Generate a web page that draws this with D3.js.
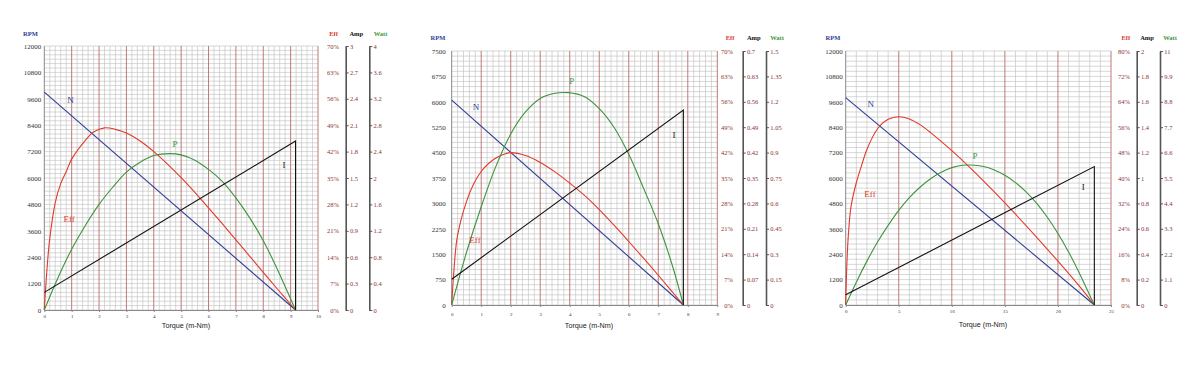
<!DOCTYPE html>
<html>
<head>
<meta charset="utf-8">
<script src="https://cdn.jsdelivr.net/npm/d3@7"></script>
<style>
body { margin: 0; background: #fff; }
</style>
</head>
<body>
<div id="chart-area"></div>
<script>
// ---- panel 1 ----
var torqueTicks1 = [0, 1, 2, 3, 4, 5, 6, 7, 8, 9, 10];
var rpmTicks1 = [0, 1200, 2400, 3600, 4800, 6000, 7200, 8400, 9600, 10800, 12000];
var effTicks1 = [0, 7, 14, 21, 28, 35, 42, 49, 56, 63, 70];
var ampTicks1 = [0, 0.3, 0.6, 0.9, 1.2, 1.5, 1.8, 2.1, 2.4, 2.7, 3];
var wattTicks1 = [0, 0.4, 0.8, 1.2, 1.6, 2, 2.4, 2.8, 3.2, 3.6, 4];
var nTorque1 = [0, 9.18];
var nRpm1 = [9900, 0];
var iTorque1 = [0, 9.18, 9.18];
var iAmp1 = [0.2, 1.92, 0];
var effTorque1 = [0, 0.1, 0.2, 0.4, 0.6, 0.82, 1, 1.5, 1.8, 2.2, 2.6, 3, 3.5, 4, 4.5, 5, 5.5, 6, 6.5, 7, 7.5, 8, 8.5, 9.18];
var eff1 = [0, 11, 19, 28.5, 33.5, 37, 40, 45, 47.2, 48.3, 47.9, 46.9, 44.8, 42, 38.7, 35.1, 31.2, 27.1, 22.9, 18.6, 14.3, 10, 5.7, 0];
var pTorque1 = [0, 0.5, 1, 1.5, 2, 2.5, 3, 3.5, 4, 4.6, 5, 5.5, 6, 6.5, 7, 7.5, 8, 8.5, 9.18];
var pWatt1 = [0, 0.49, 0.92, 1.28, 1.6, 1.86, 2.09, 2.24, 2.34, 2.37, 2.35, 2.27, 2.13, 1.95, 1.7, 1.4, 1.05, 0.63, 0];

// ---- panel 2 ----
var torqueTicks2 = [0, 1, 2, 3, 4, 5, 6, 7, 8, 9];
var rpmTicks2 = [0, 750, 1500, 2250, 3000, 3750, 4500, 5250, 6000, 6750, 7500];
var effTicks2 = [0, 7, 14, 21, 28, 35, 42, 49, 56, 63, 70];
var ampTicks2 = [0, 0.07, 0.14, 0.21, 0.28, 0.35, 0.42, 0.49, 0.56, 0.63, 0.7];
var wattTicks2 = [0, 0.15, 0.3, 0.45, 0.6, 0.75, 0.9, 1.05, 1.2, 1.35, 1.5];
var nTorque2 = [0, 7.85];
var nRpm2 = [6050, 0];
var iTorque2 = [0, 7.85, 7.85];
var iAmp2 = [0.071, 0.537, 0];
var effTorque2 = [0, 0.08, 0.19, 0.5, 0.75, 1, 1.25, 1.5, 1.75, 2, 2.5, 3, 3.5, 4, 4.5, 5, 5.5, 6, 6.5, 7, 7.85];
var eff2 = [0, 10, 18.8, 28.5, 33.5, 36.8, 39, 40.5, 41.5, 42, 41.2, 39.3, 36.7, 33.6, 30.2, 26.3, 22, 17.5, 12.9, 8.2, 0];
var pTorque2 = [0, 0.5, 1, 1.5, 2, 2.5, 3, 3.5, 3.95, 4.5, 5, 5.5, 6, 6.5, 7, 7.5, 7.85];
var pWatt2 = [0, 0.31, 0.58, 0.82, 1.01, 1.14, 1.22, 1.25, 1.254, 1.23, 1.16, 1.05, 0.89, 0.69, 0.48, 0.22, 0];

// ---- panel 3 ----
var torqueTicks3 = [0, 5, 10, 15, 20, 25];
var rpmTicks3 = [0, 1200, 2400, 3600, 4800, 6000, 7200, 8400, 9600, 10800, 12000];
var effTicks3 = [0, 8, 16, 24, 32, 40, 48, 56, 64, 72, 80];
var ampTicks3 = [0, 0.2, 0.4, 0.6, 0.8, 1, 1.2, 1.4, 1.6, 1.8, 2];
var wattTicks3 = [0, 1.1, 2.2, 3.3, 4.4, 5.5, 6.6, 7.7, 8.8, 9.9, 11];
var nTorque3 = [0, 23.43];
var nRpm3 = [9800, 0];
var iTorque3 = [0, 23.43, 23.43];
var iAmp3 = [0.08, 1.09, 0];
var effTorque3 = [0, 0.1, 0.25, 0.5, 1, 1.5, 2, 3, 4, 5, 6, 7, 8, 10, 12, 14, 16, 18, 20, 22, 23.43];
var eff3 = [0, 12, 22, 31, 38.5, 44, 49, 55.5, 58.5, 59.3, 58.6, 56.8, 54.3, 48.6, 42.3, 35.6, 28.6, 21.3, 13.8, 6, 0];
var pTorque3 = [0, 1, 2, 3, 4, 5, 6, 7, 8, 9, 10, 11, 11.7, 13, 14, 15, 16, 17, 18, 19, 20, 21, 22, 23, 23.43];
var pWatt3 = [0, 0.99, 1.9, 2.73, 3.45, 4.1, 4.65, 5.1, 5.47, 5.75, 5.95, 6.05, 6.06, 6.0, 5.85, 5.62, 5.3, 4.9, 4.4, 3.8, 3.1, 2.3, 1.4, 0.42, 0];

var seriesNames = ["N", "P", "Eff", "I"];

var panels = [
	{
		torqueTicks: torqueTicks1, rpmTicks: rpmTicks1, effTicks: effTicks1, ampTicks: ampTicks1, wattTicks: wattTicks1,
		n: [nTorque1, nRpm1], i: [iTorque1, iAmp1], eff: [effTorque1, eff1], p: [pTorque1, pWatt1],
		left: 44.3, right: 318, top: 46, bottom: 310,
		leftPad: 3, xPad: 2, minorX: 0.2, majorX: 1, minorY: 200,
		effX: 339, ampX: 345.7, wattX: 369.3, titleY: 36,
		rpmTitleX: 30.5, effTitleX: 333.5, ampTitleX: 356.3, wattTitleX: 380.5,
		xTitleX: 186, xTitleY: 327.5,
		labels: [[0.96, 9545], [4.78, 7550], [0.91, 4123], [8.76, 6591]]
	},
	{
		torqueTicks: torqueTicks2, rpmTicks: rpmTicks2, effTicks: effTicks2, ampTicks: ampTicks2, wattTicks: wattTicks2,
		n: [nTorque2, nRpm2], i: [iTorque2, iAmp2], eff: [effTorque2, eff2], p: [pTorque2, pWatt2],
		left: 451.7, right: 717.3, top: 51, bottom: 305,
		leftPad: 6, xPad: 5, minorX: 0.2, majorX: 1, minorY: 150,
		effX: 733, ampX: 742.7, wattX: 766, titleY: 40,
		rpmTitleX: 438, effTitleX: 730, ampTitleX: 753.8, wattTitleX: 777,
		xTitleX: 589, xTitleY: 327.5,
		labels: [[0.82, 5855], [4.07, 6620], [0.79, 1919], [7.53, 5020]]
	},
	{
		torqueTicks: torqueTicks3, rpmTicks: rpmTicks3, effTicks: effTicks3, ampTicks: ampTicks3, wattTicks: wattTicks3,
		n: [nTorque3, nRpm3], i: [iTorque3, iAmp3], eff: [effTorque3, eff3], p: [pTorque3, pWatt3],
		left: 845.7, right: 1111, top: 51, bottom: 305,
		leftPad: 3, xPad: 2.5, minorX: 1, majorX: 5, minorY: 240,
		effX: 1130, ampX: 1136.7, wattX: 1160, titleY: 40,
		rpmTitleX: 833, effTitleX: 1125.8, ampTitleX: 1147, wattTitleX: 1170,
		xTitleX: 983, xTitleY: 326.5,
		labels: [[2.36, 9496], [12.19, 7050], [2.29, 5244], [22.39, 5561]]
	}
];

var colors = {N: "#2f3f95", P: "#3c943c", Eff: "#e03a2a", I: "#111111"};
var serif = "'Liberation Serif', 'DejaVu Serif', serif";

var svg = d3.select("#chart-area").append("svg")
	.attr("width", 1200)
	.attr("height", 366);

function zip(xs, ys) {
	return xs.map((d, k) => [d, ys[k]]);
}

function drawPanel(c) {
	var g = svg.append("g");
	var tMax = c.torqueTicks[c.torqueTicks.length - 1];
	var rMax = c.rpmTicks[c.rpmTicks.length - 1];

	var x = d3.scaleLinear().domain([0, tMax]).range([c.left, c.right]);
	var yRpm = d3.scaleLinear().domain([0, rMax]).range([c.bottom, c.top]);
	var yEff = d3.scaleLinear().domain([0, c.effTicks[c.effTicks.length - 1]]).range([c.bottom, c.top]);
	var yAmp = d3.scaleLinear().domain([0, c.ampTicks[c.ampTicks.length - 1]]).range([c.bottom, c.top]);
	var yWatt = d3.scaleLinear().domain([0, c.wattTicks[c.wattTicks.length - 1]]).range([c.bottom, c.top]);

	// grid
	var hLines = d3.range(0, rMax + c.minorY / 2, c.minorY);
	g.append("g").selectAll("line")
		.data(hLines)
		.enter()
		.append("line")
			.attr("x1", c.left)
			.attr("x2", c.right)
			.attr("y1", d => yRpm(d))
			.attr("y2", d => yRpm(d))
			.attr("stroke", "#bdbdbd")
			.attr("stroke-width", 0.6);

	var vMinor = d3.range(0, tMax + c.minorX / 2, c.minorX)
		.filter(d => Math.abs(d / c.majorX - Math.round(d / c.majorX)) > 1e-6);
	g.append("g").selectAll("line")
		.data(vMinor)
		.enter()
		.append("line")
			.attr("x1", d => x(d))
			.attr("x2", d => x(d))
			.attr("y1", c.top)
			.attr("y2", c.bottom)
			.attr("stroke", "#bdbdbd")
			.attr("stroke-width", 0.6);

	var vMajor = d3.range(c.majorX, tMax + c.majorX / 2, c.majorX);
	g.append("g").selectAll("line")
		.data(vMajor)
		.enter()
		.append("line")
			.attr("x1", d => x(d))
			.attr("x2", d => x(d))
			.attr("y1", c.top)
			.attr("y2", c.bottom)
			.attr("stroke", "#b86b6b")
			.attr("stroke-width", 0.9);

	g.append("line")
		.attr("x1", c.left).attr("x2", c.left)
		.attr("y1", c.top).attr("y2", c.bottom)
		.attr("stroke", "#888").attr("stroke-width", 1);

	// left axis
	var leftAxis = g.append("g")
		.attr("transform", "translate(" + c.left + ",0)")
		.call(d3.axisLeft(yRpm).tickValues(c.rpmTicks).tickSize(0).tickPadding(c.leftPad).tickFormat(d3.format("d")));
	leftAxis.select(".domain").remove();
	leftAxis.selectAll("text").attr("font-family", serif).attr("font-size", "7px").attr("fill", "#333");

	// bottom axis
	var bottomAxis = g.append("g")
		.attr("transform", "translate(0," + c.bottom + ")")
		.call(d3.axisBottom(x).tickValues(c.torqueTicks).tickSize(2).tickSizeOuter(0).tickPadding(c.xPad));
	bottomAxis.select(".domain").attr("stroke", "#888");
	bottomAxis.selectAll("line").attr("stroke", "#888");
	bottomAxis.selectAll("text").attr("font-family", serif).attr("font-size", "5px").attr("fill", "#333");

	// right axes
	var effAxis = g.append("g")
		.attr("transform", "translate(" + c.effX + ",0)")
		.call(d3.axisLeft(yEff).tickValues(c.effTicks).tickSize(0).tickPadding(0).tickFormat(d => d + "%"));
	effAxis.select(".domain").remove();

	var ampAxis = g.append("g")
		.attr("transform", "translate(" + c.ampX + ",0)")
		.call(d3.axisRight(yAmp).tickValues(c.ampTicks).tickSize(3).tickSizeOuter(0).tickPadding(1.3).tickFormat(d => String(d)));

	var wattAxis = g.append("g")
		.attr("transform", "translate(" + c.wattX + ",0)")
		.call(d3.axisRight(yWatt).tickValues(c.wattTicks).tickSize(3).tickSizeOuter(0).tickPadding(1.3).tickFormat(d => String(d)));

	[effAxis, ampAxis, wattAxis].forEach(a => {
		a.selectAll("text").attr("font-family", serif).attr("font-size", "6.5px").attr("fill", "#8a3535");
		a.selectAll(".domain").attr("stroke", "#555").attr("stroke-width", 1.6);
		a.selectAll(".tick line").attr("stroke", "#555").attr("stroke-width", 1);
	});

	// axis titles
	var titles = [
		["RPM", c.rpmTitleX, colors.N],
		["Eff", c.effTitleX, colors.Eff],
		["Amp", c.ampTitleX, "#111"],
		["Watt", c.wattTitleX, colors.P]
	];
	g.append("g").selectAll("text")
		.data(titles)
		.enter()
		.append("text")
			.attr("x", d => d[1])
			.attr("y", c.titleY)
			.attr("text-anchor", "middle")
			.attr("font-family", serif)
			.attr("font-weight", "bold")
			.attr("font-size", "6.5px")
			.attr("fill", d => d[2])
			.text(d => d[0]);

	g.append("text")
		.attr("x", c.xTitleX)
		.attr("y", c.xTitleY)
		.attr("text-anchor", "middle")
		.attr("font-family", "'Liberation Sans', Arial, sans-serif")
		.attr("font-size", "7.2px")
		.attr("fill", "#222")
		.text("Torque (m-Nm)");

	// curves
	var straight = d3.line().x(d => x(d[0]));
	var smooth = d3.line().x(d => x(d[0])).curve(d3.curveCatmullRom.alpha(0.5));

	g.append("path")
		.attr("d", straight.y(d => yRpm(d[1]))(zip(c.n[0], c.n[1])))
		.attr("fill", "none").attr("stroke", colors.N).attr("stroke-width", 1.1);
	g.append("path")
		.attr("d", smooth.y(d => yEff(d[1]))(zip(c.eff[0], c.eff[1])))
		.attr("fill", "none").attr("stroke", colors.Eff).attr("stroke-width", 1.1);
	g.append("path")
		.attr("d", smooth.y(d => yWatt(d[1]))(zip(c.p[0], c.p[1])))
		.attr("fill", "none").attr("stroke", colors.P).attr("stroke-width", 1.1);
	g.append("path")
		.attr("d", straight.y(d => yAmp(d[1]))(zip(c.i[0], c.i[1])))
		.attr("fill", "none").attr("stroke", colors.I).attr("stroke-width", 1.1);

	// curve labels
	g.append("g").selectAll("text")
		.data(c.labels)
		.enter()
		.append("text")
			.attr("x", d => x(d[0]))
			.attr("y", d => yRpm(d[1]) + 3)
			.attr("text-anchor", "middle")
			.attr("font-family", serif)
			.attr("font-size", "9px")
			.attr("fill", (d, k) => colors[seriesNames[k]])
			.text((d, k) => seriesNames[k]);
}

panels.forEach(drawPanel);
</script>
</body>
</html>
